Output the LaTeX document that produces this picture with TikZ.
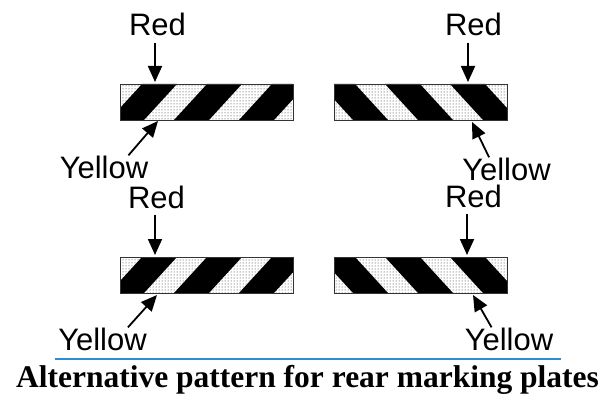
\documentclass[tikz,border=0pt]{standalone}
\usepackage{fontspec}
\setmainfont{Liberation Serif}
\setsansfont{Liberation Sans}
\usetikzlibrary{patterns,arrows.meta}

\definecolor{rulebl}{RGB}{45,140,210}

\tikzset{
	lbl/.style={font=\sffamily\fontsize{31}{34}\selectfont, inner sep=0pt, anchor=base},
	ptr/.style={-{Triangle[length=16pt,width=14pt]}, line width=1.8pt},
	pics/plate/.style={code={
		\fill[white] (0,0) rectangle (173,36);
		\fill[pattern=dots, pattern color=black!85] (0,0) rectangle (173,36);
		\begin{scope}
			\clip (0,0) rectangle (173,36);
			\foreach \k in {0,1,2}
				\fill[black] ({22+65*\k},0) -- ({57+65*\k},0) -- ({24+65*\k},36) -- ({-11+65*\k},36) -- cycle;
		\end{scope}
		\draw[black!80, line width=0.7pt] (0,0) rectangle (173,36);
	}}
}

\begin{document}
\begin{tikzpicture}[x=1pt, y=-1pt]
			\useasboundingbox (0,0) rectangle (607,401);
			% plates
			\pic at (120,84) {plate};
			\pic[xscale=-1] at (507,84) {plate};
			\pic at (120,257) {plate};
			\pic[xscale=-1] at (507,257) {plate};
			% arrow tips on the plates
			\coordinate (tlr) at (155,82);
			\coordinate (tly) at (158,121);
			\coordinate (trr) at (468,82);
			\coordinate (try) at (472,122);
			\coordinate (blr) at (155,255);
			\coordinate (bly) at (157,295);
			\coordinate (brr) at (467,255);
			\coordinate (bry) at (473,295);
			% labels
			\node[lbl] (rTL) at (157.5,36) {Red};
			\node[lbl] (yTL) at (104,178) {Yellow};
			\node[lbl] (rTR) at (473.5,36) {Red};
			\node[lbl] (yTR) at (506.5,180) {Yellow};
			\node[lbl] (rBL) at (156.5,208) {Red};
			\node[lbl] (yBL) at (102.5,350) {Yellow};
			\node[lbl] (rBR) at (473.5,207) {Red};
			\node[lbl] (yBR) at (509,350) {Yellow};
			% arrows
			\draw[ptr, shorten <=6pt] (rTL.south -| tlr) -- (tlr);
			\draw[ptr, shorten <=6pt] (rTR.south -| trr) -- (trr);
			\draw[ptr, shorten <=6pt] (rBL.south -| blr) -- (blr);
			\draw[ptr, shorten <=6pt] (rBR.south -| brr) -- (brr);
			\draw[ptr] ([xshift=-20pt]yTL.north east) -- (tly);
			\draw[ptr] ([xshift=-19pt]yBL.north east) -- (bly);
			\draw[ptr] ([xshift=27pt]yTR.north west) -- (try);
			\draw[ptr] ([xshift=27pt]yBR.north west) -- (bry);
			% caption
			\draw[rulebl, line width=2pt] (55,359) -- (561,359);
			\node[inner sep=0pt, anchor=base, font=\bfseries\fontsize{31.5}{34}\selectfont] (cap) at (307.5,387) {Alternative pattern for rear marking plates};
		\end{tikzpicture}
\end{document}
